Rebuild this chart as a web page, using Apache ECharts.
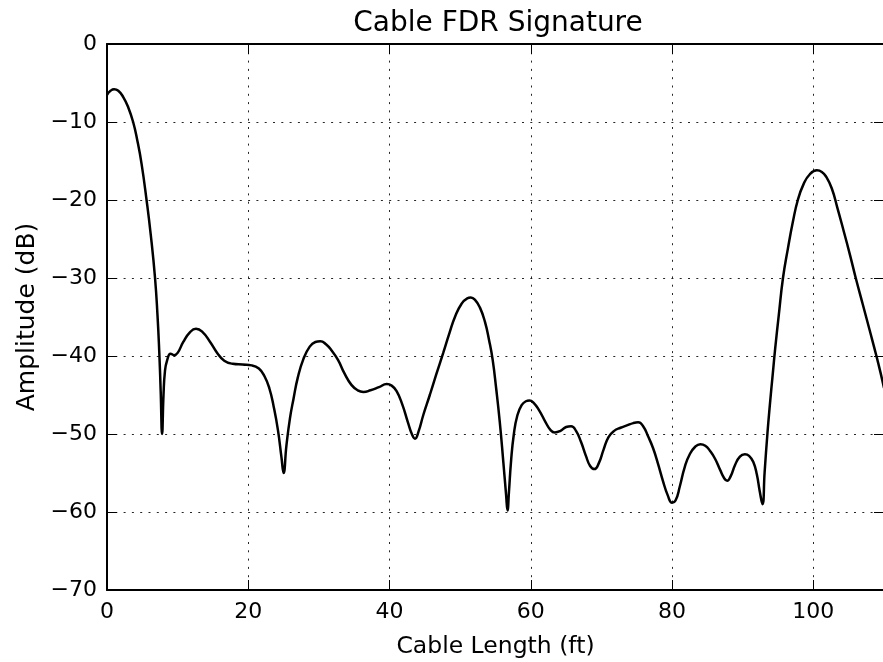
<!DOCTYPE html>
<html>
<head>
<meta charset="utf-8">
<script src="https://cdn.jsdelivr.net/npm/echarts@6/dist/echarts.min.js"></script>
<style>
html,body{margin:0;padding:0;background:#fff;}
#chart{width:883px;height:662px;}
</style>
</head>
<body>
<div id="chart"></div>
<script>
// Cable length (ft)
var cableLength = [0, 0.5, 1.0, 1.6, 2.3, 3.0, 3.7, 4.3, 4.9, 5.6, 6.2, 6.8, 7.15, 7.4, 7.6, 7.8, 8.0, 8.2, 8.5, 9.0, 9.5, 10.0, 10.8, 11.7, 12.6, 13.5, 14.6, 15.6, 16.6, 17.8, 19.2, 20.5, 21.5, 22.3, 23.0, 23.6, 24.2, 24.7, 25.0, 25.4, 25.9, 26.4, 27.0, 27.8, 28.7, 29.5, 30.2, 31.0, 31.8, 32.7, 33.6, 34.6, 35.5, 36.3, 37.3, 38.5, 39.6, 40.3, 41.0, 41.8, 42.6, 43.2, 43.6, 44.1, 44.8, 45.7, 46.6, 47.6, 48.5, 49.3, 50.2, 51.0, 51.5, 52.1, 52.8, 53.5, 54.1, 54.6, 55.1, 55.6, 56.1, 56.5, 56.7, 56.9, 57.2, 57.6, 58.1, 58.7, 59.3, 59.8, 60.4, 61.2, 62.1, 62.8, 63.4, 64.2, 65.0, 65.7, 66.4, 67.1, 67.8, 68.4, 69.0, 69.6, 70.3, 71.0, 71.8, 72.7, 73.6, 74.5, 75.2, 75.9, 76.6, 77.3, 78.0, 78.7, 79.4, 80.0, 80.5, 81.1, 81.8, 82.5, 83.3, 84.0, 84.7, 85.4, 86.1, 86.8, 87.4, 87.8, 88.3, 88.9, 89.6, 90.3, 90.9, 91.5, 92.0, 92.4, 92.8, 93.1, 93.5, 93.9, 94.2, 94.6, 95.1, 95.7, 96.4, 97.1, 97.8, 98.6, 99.5, 100.5, 101.2, 101.8, 102.6, 103.4, 104.3, 105.2, 106.0, 107.0, 108.0, 108.9, 109.5, 110];
// Amplitude (dB)
var amplitude = [-6.5, -6.0, -5.8, -6.0, -6.8, -8.1, -10.0, -12.4, -15.4, -20, -24.5, -30, -34.8, -39.5, -44.5, -50, -45, -42, -40.6, -39.7, -39.9, -39.6, -38.2, -37.0, -36.5, -36.9, -38.2, -39.6, -40.6, -41.0, -41.1, -41.2, -41.6, -42.6, -44.2, -46.5, -49.5, -53, -55.0, -51.5, -48.0, -45.5, -42.8, -40.4, -38.8, -38.2, -38.1, -38.5, -39.3, -40.5, -42.2, -43.7, -44.4, -44.6, -44.4, -44.0, -43.6, -43.8, -44.5, -46.2, -48.5, -50.1, -50.6, -49.7, -47.5, -45.0, -42.4, -39.6, -37.0, -34.9, -33.3, -32.6, -32.5, -32.8, -33.8, -35.6, -38.0, -40.5, -44.2, -48.4, -53.5, -57.8, -59.8, -57.5, -53.5, -50.0, -47.6, -46.3, -45.8, -45.7, -46.0, -47.0, -48.5, -49.5, -49.8, -49.6, -49.1, -49.0, -49.6, -51.0, -52.8, -54.1, -54.5, -53.8, -52.0, -50.4, -49.6, -49.2, -48.9, -48.6, -48.5, -49.0, -50.3, -51.8, -53.8, -56.0, -57.9, -58.8, -58.5, -56.7, -54.2, -52.6, -51.6, -51.3, -51.5, -52.2, -53.2, -54.6, -55.7, -56.0, -55.4, -54.0, -52.9, -52.6, -52.8, -53.6, -55.2, -57.3, -59.0, -54.9, -49.9, -45.7, -42.8, -39.0, -34.8, -30.0, -26.2, -22.8, -20.0, -18.0, -16.7, -16.2, -16.4, -17.0, -18.5, -21.0, -24.0, -27.1, -30.0, -33.4, -36.8, -39.9, -42.1, -44.1];
var xTicks = [0, 20, 40, 60, 80, 100];
var yTicks = [0, -10, -20, -30, -40, -50, -60, -70];

var seriesData = cableLength.map(function (x, i) { return [x, amplitude[i]]; });
var font = 'DejaVu Sans';
function minus(v) { return String(v).replace('-', '\u2212'); }

var chart = echarts.init(document.getElementById('chart'), null, {renderer: 'canvas'});
var gridLine = {show: true, lineStyle: {color: '#000', width: 1, type: [2, 6.3], opacity: 0.85}};
chart.setOption({
  animation: false,
  backgroundColor: '#fff',
  title: {
    text: 'Cable FDR Signature',
    left: 493, top: 5, textAlign: 'center',
    textStyle: {fontFamily: font, fontSize: 28, fontWeight: 'normal', color: '#000'}
  },
  grid: {left: 107, top: 44, right: -1, bottom: 72, containLabel: false, outerBoundsMode: 'none'},
  xAxis: [{
    type: 'value', min: 0, max: 110, interval: 20, position: 'bottom',
    name: 'Cable Length (ft)', nameLocation: 'middle', nameGap: 45,
    nameTextStyle: {fontFamily: font, fontSize: 23.5, color: '#000'},
    axisLine: {show: true, onZero: false, lineStyle: {color: '#000', width: 2}},
    axisTick: {show: true, inside: true, length: 10, lineStyle: {color: '#000', width: 1}},
    axisLabel: {fontFamily: font, fontSize: 22, color: '#000', margin: 11, showMaxLabel: false,
      formatter: function (v) { return xTicks.indexOf(v) >= 0 ? minus(v) : ''; }},
    splitLine: gridLine
  }, {
    type: 'value', min: 0, max: 110, interval: 20, position: 'top',
    axisLine: {show: true, onZero: false, lineStyle: {color: '#000', width: 2}},
    axisTick: {show: true, inside: true, length: 10, lineStyle: {color: '#000', width: 1}},
    axisLabel: {show: false}, splitLine: {show: false}
  }],
  yAxis: [{
    type: 'value', min: -70, max: 0, interval: 10, position: 'left',
    name: 'Amplitude (dB)', nameLocation: 'middle', nameGap: 66, nameRotate: 90,
    nameTextStyle: {fontFamily: font, fontSize: 25, color: '#000'},
    axisLine: {show: true, onZero: false, lineStyle: {color: '#000', width: 2}},
    axisTick: {show: true, inside: true, length: 10, lineStyle: {color: '#000', width: 1}},
    axisLabel: {fontFamily: font, fontSize: 22, color: '#000', margin: 10,
      formatter: function (v) { return yTicks.indexOf(v) >= 0 ? minus(v) : ''; }},
    splitLine: gridLine
  }, {
    type: 'value', min: -70, max: 0, interval: 10, position: 'right',
    axisLine: {show: true, onZero: false, lineStyle: {color: '#000', width: 2}},
    axisTick: {show: true, inside: true, length: 10, lineStyle: {color: '#000', width: 1}},
    axisLabel: {show: false}, splitLine: {show: false}
  }],
  series: [{
    type: 'line', data: seriesData, xAxisIndex: 0, yAxisIndex: 0,
    showSymbol: false, smooth: 0.5,
    lineStyle: {color: '#000', width: 2.5}
  }]
});
</script>
</body>
</html>
